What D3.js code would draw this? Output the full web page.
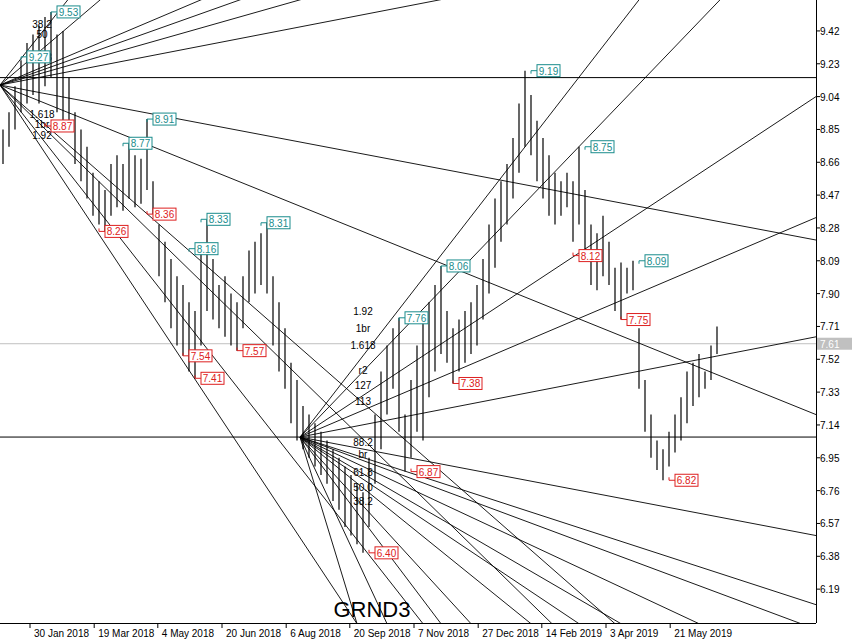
<!DOCTYPE html>
<html><head><meta charset="utf-8">
<script src="https://cdn.jsdelivr.net/npm/d3@7"></script>
<style>body{margin:0;background:#fff}svg text{font-family:"Liberation Sans",Arial,sans-serif}</style>
</head><body><div id="chart"></div>
<script>
const highs = [8.85,8.95,9.10,9.25,9.35,9.40,9.45,9.50,9.53,9.40,9.42,9.15,8.95,8.85,8.75,8.60,8.55,8.50,8.65,8.70,
  8.65,8.77,8.70,8.68,8.91,8.55,8.30,8.20,8.10,8.00,7.95,7.85,7.80,8.16,8.33,8.10,7.95,8.00,7.90,7.85,
  8.00,8.15,8.20,8.25,8.31,8.00,7.85,7.70,7.50,7.40,7.25,7.20,7.15,7.10,7.05,7.00,6.95,6.90,6.85,6.80,
  6.75,6.95,7.20,7.45,7.60,7.70,7.76,7.20,7.40,7.60,7.75,7.85,7.95,8.06,7.80,7.70,7.75,7.80,7.85,7.95,
  8.10,8.30,8.45,8.55,8.65,8.80,9.00,9.19,9.05,8.90,8.80,8.70,8.60,8.55,8.60,8.55,8.75,8.50,8.30,8.25,
  8.35,8.20,8.05,8.08,8.05,8.09,7.70,7.40,7.20,7.05,7.00,7.10,7.20,7.30,7.45,7.50,7.55,7.45,7.60,7.71];
const lows = [8.65,8.75,8.85,8.95,9.00,9.05,9.00,9.10,9.15,8.95,8.87,8.85,8.65,8.55,8.45,8.35,8.30,8.26,8.35,8.40,
  8.38,8.45,8.40,8.42,8.50,8.36,8.00,7.85,7.70,7.60,7.54,7.45,7.41,7.60,7.80,7.75,7.70,7.65,7.60,7.57,
  7.70,7.85,7.90,7.95,7.90,7.60,7.45,7.35,7.15,7.05,7.00,6.95,6.90,6.85,6.80,6.70,6.65,6.55,6.50,6.45,
  6.40,6.55,6.80,7.00,7.20,7.35,7.10,6.87,6.95,7.10,7.05,7.30,7.45,7.55,7.50,7.38,7.45,7.50,7.55,7.60,
  7.75,7.90,8.05,8.20,8.30,8.45,8.60,8.75,8.70,8.55,8.45,8.35,8.30,8.35,8.40,8.20,8.30,8.10,7.95,7.92,
  8.00,7.95,7.80,7.75,7.90,7.92,7.35,7.10,6.95,6.88,6.82,6.90,6.98,7.05,7.15,7.25,7.30,7.35,7.40,7.55];
const priceTicks = [9.42,9.23,9.04,8.85,8.66,8.47,8.28,8.09,7.90,7.71,7.52,7.33,7.14,6.95,6.76,6.57,6.38,6.19];
const dateTicks = [-6.2,4.5,15.2,25.8,36.5,47.2,57.8,68.5,79.2,89.8,100.5,111.2];
const dateLabels = ["2017","30 Jan 2018","19 Mar 2018","4 May 2018","20 Jun 2018","6 Aug 2018","20 Sep 2018",
  "7 Nov 2018","27 Dec 2018","14 Feb 2019","3 Apr 2019","21 May 2019"];
// price boxes: bar index, price, high/low
const marks = [[8,9.53,"h"],[3,9.27,"h"],[7,8.87,"l"],[24,8.91,"h"],[20,8.77,"h"],[24,8.36,"l"],[16,8.26,"l"],
  [33,8.33,"h"],[31,8.16,"h"],[43,8.31,"h"],[39,7.57,"l"],[30,7.54,"l"],[32,7.41,"l"],[66,7.76,"h"],
  [75,7.38,"l"],[73,8.06,"h"],[68,6.87,"l"],[61,6.40,"l"],[88,9.19,"h"],[97,8.75,"h"],[106,8.09,"h"],
  [95,8.12,"l"],[103,7.75,"l"],[111,6.82,"l"]];
// fan lines: origin and a point each passes through (bar, price)
const fan1 = [-0.5, 9.107];
const fan1Targets = [[10.8,9.60],[16.2,9.60],[33,9.60],[39.5,9.60],[49.5,9.60],[72.8,9.60],
  [135.5,8.21],[135.5,7.20],[91.5,5.99],[59,5.99],[70,5.99],[102,5.99]];
const fan2 = [49.5, 7.07];
const fan2Targets = [[106,9.60],[119.5,9.60],[135.5,9.04],[135.5,8.34],[135.5,7.65],
  [135.5,6.50],[135.5,6.10],[133,5.99],[116,5.99],[103,5.99],[96,5.99],[88,5.99],[78,5.99],
  [73,5.99],[64,5.99],[59,5.99]];
const hLines = [9.15, 7.07];
const lastPrice = 7.61;
const fib2 = [["1.92",7.80],["1br",7.70],["1.618",7.60],["r2",7.46],["127",7.37],["113",7.28],
  ["88.2",7.04],["br",6.97],["61.8",6.87],["50.0",6.78],["38.2",6.70]];
const fib1 = [["38.2",9.46],["50",9.40],["61.8",9.27],["1.618",8.94],["1br",8.88],["1.92",8.82]];

const W = 852, H = 642, pw = 816, ph = 623;
const svg = d3.select('#chart').append('svg').attr('width', W).attr('height', H);
const x = d3.scaleLinear().domain([-0.5, 135.5]).range([0, pw]);
const y = d3.scaleLinear().domain([5.994, 9.599]).range([ph, 0]);
svg.append('defs').append('clipPath').attr('id', 'clip')
  .append('rect').attr('width', pw).attr('height', ph);
const g = svg.append('g').attr('clip-path', 'url(#clip)');

g.append('line').attr('x1', 0).attr('x2', pw).attr('y1', y(lastPrice)).attr('y2', y(lastPrice))
  .attr('stroke', '#c0c0c0');
hLines.forEach(p => g.append('line').attr('x1', 0).attr('x2', pw)
  .attr('y1', y(p)).attr('y2', y(p)).attr('stroke', '#000'));

function fanLines(o, ts) {
  ts.forEach(t => {
    const k = 6;
    g.append('line')
      .attr('x1', x(o[0])).attr('y1', y(o[1]))
      .attr('x2', x(o[0] + (t[0] - o[0]) * k)).attr('y2', y(o[1] + (t[1] - o[1]) * k))
      .attr('stroke', '#000').attr('stroke-width', 0.9);
  });
}
fanLines(fan1, fan1Targets);
fanLines(fan2, fan2Targets);

g.selectAll('.bar').data(highs).join('line').attr('class', 'bar')
  .attr('x1', (d, i) => x(i)).attr('x2', (d, i) => x(i))
  .attr('y1', d => y(d)).attr('y2', (d, i) => y(lows[i]))
  .attr('stroke', '#000').attr('stroke-width', 1.2);

const fibText = (arr, xp) => arr.forEach(f => g.append('text').attr('x', xp).attr('y', y(f[1]) + 4)
  .attr('text-anchor', 'middle').attr('font-size', 10).attr('fill', '#000').text(f[0]));
fibText(fib2, 363);
fibText(fib1, 42);

marks.forEach(m => {
  const col = m[2] === 'h' ? '#1a8c8c' : '#dd2020';
  const bx = x(m[0]), by = y(m[1]);
  const tw = 23;
  g.append('polyline').attr('points', `${bx},${by + (m[2] === 'h' ? 3 : -3)} ${bx},${by} ${bx + 6},${by}`)
    .attr('fill', 'none').attr('stroke', col);
  g.append('rect').attr('x', bx + 6).attr('y', by - 6).attr('width', tw).attr('height', 12)
    .attr('fill', '#fff').attr('stroke', col);
  g.append('text').attr('x', bx + 6 + tw / 2).attr('y', by + 4).attr('text-anchor', 'middle')
    .attr('font-size', 10).attr('fill', col).text(m[1].toFixed(2));
});

// axes
svg.append('line').attr('x1', pw + 0.5).attr('x2', pw + 0.5).attr('y1', 0).attr('y2', ph).attr('stroke', '#000');
svg.append('line').attr('x1', 0).attr('x2', pw).attr('y1', ph + 0.5).attr('y2', ph + 0.5).attr('stroke', '#000');
priceTicks.forEach(p => {
  svg.append('line').attr('x1', pw).attr('x2', pw + 4).attr('y1', y(p)).attr('y2', y(p)).attr('stroke', '#000');
  svg.append('text').attr('x', pw + 4).attr('y', y(p) + 4).attr('font-size', 10).text(p.toFixed(2));
});
svg.append('rect').attr('x', pw + 1).attr('y', y(lastPrice) - 6).attr('width', 35).attr('height', 12).attr('fill', '#c0c0c0');
svg.append('text').attr('x', pw + 4).attr('y', y(lastPrice) + 4).attr('font-size', 10).attr('fill', '#fff').text(lastPrice.toFixed(2));
dateTicks.forEach((d, i) => {
  svg.append('line').attr('x1', x(d)).attr('x2', x(d)).attr('y1', ph).attr('y2', ph + 5).attr('stroke', '#000');
  svg.append('text').attr('x', x(d) + 4).attr('y', ph + 14).attr('font-size', 10)
    .attr('text-anchor', i === 0 ? 'end' : 'start').attr('dx', i === 0 ? 14 : 0).text(dateLabels[i]);
});
svg.append('text').attr('x', 372).attr('y', 617).attr('text-anchor', 'middle').attr('font-size', 22).text('GRND3');
</script></body></html>
